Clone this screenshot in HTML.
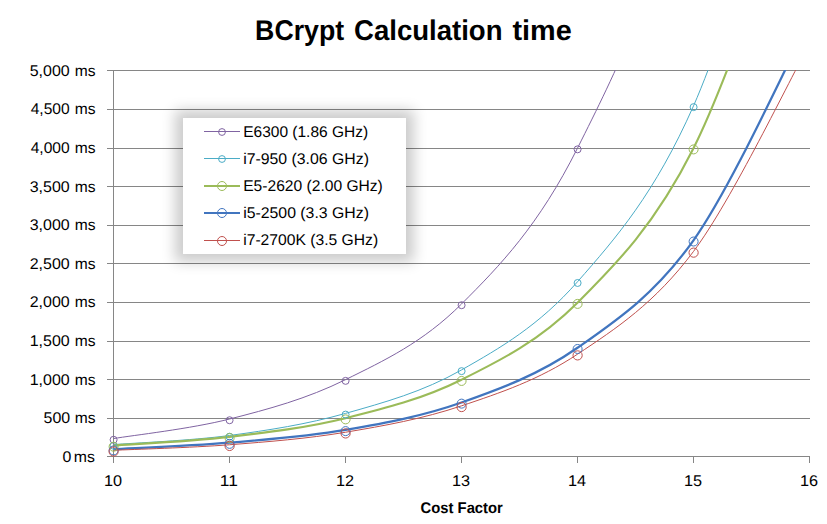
<!DOCTYPE html>
<html><head><meta charset="utf-8"><style>
html,body{margin:0;padding:0;background:#fff;}
body{width:827px;height:524px;overflow:hidden;}
svg{display:block;}
text{font-family:"Liberation Sans",sans-serif;fill:#000;text-rendering:geometricPrecision;}
</style></head><body>
<svg width="827" height="524" viewBox="0 0 827 524">
<defs>
<clipPath id="plot"><rect x="113" y="70" width="697" height="386"/></clipPath>
<filter id="sh" x="-50%" y="-50%" width="200%" height="200%"><feGaussianBlur stdDeviation="7"/></filter>
</defs>
<rect width="827" height="524" fill="#fff"/>

<path d="M107 70.5H810 M107 109.5H810 M107 148.5H810 M107 186.5H810 M107 225.5H810 M107 263.5H810 M107 302.5H810 M107 341.5H810 M107 379.5H810 M107 418.5H810" stroke="#868686" stroke-width="1" fill="none"/>
<path d="M113.5 70V463M107 456.5H810M229.5 456V463M345.5 456V463M461.5 456V463M577.5 456V463M693.5 456V463M809.5 456V463" stroke="#868686" stroke-width="1" fill="none"/>
<text x="255.12" y="40" font-size="28.5" font-weight="bold" textLength="89.09" lengthAdjust="spacingAndGlyphs">BCrypt</text>
<text x="354.03" y="40" font-size="28.5" font-weight="bold" textLength="148.52" lengthAdjust="spacingAndGlyphs">Calculation</text>
<text x="512.5" y="40" font-size="28.5" font-weight="bold" textLength="59.22" lengthAdjust="spacingAndGlyphs">time</text>
<text x="29.67" y="76" font-size="15.5" textLength="40.02" lengthAdjust="spacingAndGlyphs">5,000</text>
<text x="74.89" y="76" font-size="15.5" textLength="20.78" lengthAdjust="spacingAndGlyphs">ms</text>
<text x="30.7" y="114" font-size="15.5" textLength="39" lengthAdjust="spacingAndGlyphs">4,500</text>
<text x="74.89" y="114" font-size="15.5" textLength="20.78" lengthAdjust="spacingAndGlyphs">ms</text>
<text x="30.7" y="153" font-size="15.5" textLength="39" lengthAdjust="spacingAndGlyphs">4,000</text>
<text x="74.89" y="153" font-size="15.5" textLength="20.78" lengthAdjust="spacingAndGlyphs">ms</text>
<text x="29.67" y="192" font-size="15.5" textLength="40.02" lengthAdjust="spacingAndGlyphs">3,500</text>
<text x="74.89" y="192" font-size="15.5" textLength="20.78" lengthAdjust="spacingAndGlyphs">ms</text>
<text x="29.67" y="230" font-size="15.5" textLength="40.02" lengthAdjust="spacingAndGlyphs">3,000</text>
<text x="74.89" y="230" font-size="15.5" textLength="20.78" lengthAdjust="spacingAndGlyphs">ms</text>
<text x="29.67" y="269" font-size="15.5" textLength="40.02" lengthAdjust="spacingAndGlyphs">2,500</text>
<text x="74.89" y="269" font-size="15.5" textLength="20.78" lengthAdjust="spacingAndGlyphs">ms</text>
<text x="29.67" y="307" font-size="15.5" textLength="40.02" lengthAdjust="spacingAndGlyphs">2,000</text>
<text x="74.89" y="307" font-size="15.5" textLength="20.78" lengthAdjust="spacingAndGlyphs">ms</text>
<text x="29.67" y="346" font-size="15.5" textLength="40.02" lengthAdjust="spacingAndGlyphs">1,500</text>
<text x="74.89" y="346" font-size="15.5" textLength="20.78" lengthAdjust="spacingAndGlyphs">ms</text>
<text x="29.67" y="385" font-size="15.5" textLength="40.02" lengthAdjust="spacingAndGlyphs">1,000</text>
<text x="74.89" y="385" font-size="15.5" textLength="20.78" lengthAdjust="spacingAndGlyphs">ms</text>
<text x="43.57" y="423" font-size="15.5" textLength="26.6" lengthAdjust="spacingAndGlyphs">500</text>
<text x="74.89" y="423" font-size="15.5" textLength="20.78" lengthAdjust="spacingAndGlyphs">ms</text>
<text x="62.6" y="462" font-size="15.5" textLength="8.84" lengthAdjust="spacingAndGlyphs">0</text>
<text x="73.88" y="462" font-size="15.5" textLength="21.11" lengthAdjust="spacingAndGlyphs">ms</text>
<text x="103.95" y="486" font-size="15.5" textLength="18.11" lengthAdjust="spacingAndGlyphs">10</text>
<text x="219.88" y="486" font-size="15.5" textLength="18.03" lengthAdjust="spacingAndGlyphs">11</text>
<text x="335.95" y="486" font-size="15.5" textLength="18.11" lengthAdjust="spacingAndGlyphs">12</text>
<text x="451.95" y="486" font-size="15.5" textLength="18.11" lengthAdjust="spacingAndGlyphs">13</text>
<text x="567.95" y="486" font-size="15.5" textLength="18.11" lengthAdjust="spacingAndGlyphs">14</text>
<text x="683.95" y="486" font-size="15.5" textLength="18.11" lengthAdjust="spacingAndGlyphs">15</text>
<text x="799.95" y="486" font-size="15.5" textLength="18.11" lengthAdjust="spacingAndGlyphs">16</text>
<text x="420.6" y="513" font-size="15.5" font-weight="bold" textLength="82.22" lengthAdjust="spacingAndGlyphs">Cost Factor</text>
<g clip-path="url(#plot)" fill="none">
<path d="M113.5 438.57C132.83 435.32 190.83 428.86 229.5 419.04C268.17 409.22 306.83 398.84 345.5 379.67C384.17 360.5 422.83 342.6 461.5 304.01C500.17 265.42 538.83 225.33 577.5 148.14C616.17 70.96 654.83 -5.48 693.5 -159.11C732.17 -312.74 790.17 -671.21 809.5 -773.62" stroke="#8064A2" stroke-width="1"/>
<path d="M113.5 444.59C132.83 443.07 190.83 440.68 229.5 435.48C268.17 430.28 306.83 424.33 345.5 413.4C384.17 402.48 422.83 391.88 461.5 369.94C500.17 348 538.83 325.78 577.5 281.78C616.17 237.77 654.83 193.47 693.5 105.92C732.17 18.36 790.17 -185.32 809.5 -243.57" stroke="#4BACC6" stroke-width="1"/>
<path d="M113.5 445.52C132.83 444.08 190.83 441.43 229.5 436.87C268.17 432.32 306.83 427.71 345.5 418.19C384.17 408.67 422.83 398.99 461.5 379.74C500.17 360.5 538.83 341.29 577.5 302.7C616.17 264.11 654.83 225.16 693.5 148.22C732.17 71.28 790.17 -107.76 809.5 -158.96" stroke="#9BBB59" stroke-width="2.1"/>
<path d="M113.5 449.22C132.83 448.13 190.83 445.88 229.5 442.66C268.17 439.45 306.83 436.63 345.5 429.92C384.17 423.22 422.83 416.13 461.5 402.44C500.17 388.75 538.83 374.8 577.5 347.78C616.17 320.76 654.83 294.82 693.5 240.32C732.17 185.82 790.17 57.36 809.5 20.76" stroke="#4175BF" stroke-width="2.25"/>
<path d="M113.5 450.3C132.83 449.38 190.83 447.76 229.5 444.75C268.17 441.74 306.83 438.72 345.5 432.24C384.17 425.76 422.83 418.85 461.5 405.84C500.17 392.83 538.83 379.92 577.5 354.19C616.17 328.46 654.83 303.15 693.5 251.44C732.17 199.73 790.17 78.51 809.5 43.92" stroke="#C0504D" stroke-width="1"/>
</g>
<g fill="none" stroke-width="1">
<circle cx="113.6" cy="439.77" r="3.5" stroke="#8064A2"/>
<circle cx="229.6" cy="420.24" r="3.5" stroke="#8064A2"/>
<circle cx="345.6" cy="380.87" r="3.5" stroke="#8064A2"/>
<circle cx="461.6" cy="305.21" r="3.5" stroke="#8064A2"/>
<circle cx="577.6" cy="149.34" r="3.5" stroke="#8064A2"/>
<circle cx="113.6" cy="445.79" r="3.5" stroke="#4BACC6"/>
<circle cx="229.6" cy="436.68" r="3.5" stroke="#4BACC6"/>
<circle cx="345.6" cy="414.6" r="3.5" stroke="#4BACC6"/>
<circle cx="461.6" cy="371.14" r="3.5" stroke="#4BACC6"/>
<circle cx="577.6" cy="282.98" r="3.5" stroke="#4BACC6"/>
<circle cx="693.6" cy="107.12" r="3.5" stroke="#4BACC6"/>
<circle cx="113.6" cy="446.72" r="4.5" stroke="#9BBB59"/>
<circle cx="229.6" cy="438.07" r="4.5" stroke="#9BBB59"/>
<circle cx="345.6" cy="419.39" r="4.5" stroke="#9BBB59"/>
<circle cx="461.6" cy="380.94" r="4.5" stroke="#9BBB59"/>
<circle cx="577.6" cy="303.9" r="4.5" stroke="#9BBB59"/>
<circle cx="693.6" cy="149.42" r="4.5" stroke="#9BBB59"/>
<circle cx="113.6" cy="450.42" r="4.5" stroke="#4175BF"/>
<circle cx="229.6" cy="443.86" r="4.5" stroke="#4175BF"/>
<circle cx="345.6" cy="431.12" r="4.5" stroke="#4175BF"/>
<circle cx="461.6" cy="403.64" r="4.5" stroke="#4175BF"/>
<circle cx="577.6" cy="348.98" r="4.5" stroke="#4175BF"/>
<circle cx="693.6" cy="241.52" r="4.5" stroke="#4175BF"/>
<circle cx="113.6" cy="451.5" r="4.6" stroke="#C0504D"/>
<circle cx="229.6" cy="445.95" r="4.6" stroke="#C0504D"/>
<circle cx="345.6" cy="433.44" r="4.6" stroke="#C0504D"/>
<circle cx="461.6" cy="407.04" r="4.6" stroke="#C0504D"/>
<circle cx="577.6" cy="355.39" r="4.6" stroke="#C0504D"/>
<circle cx="693.6" cy="252.64" r="4.6" stroke="#C0504D"/>
</g>
<rect x="175" y="110" width="239" height="152" fill="#000" opacity="0.2" filter="url(#sh)"/>
<rect x="183" y="118" width="223" height="136" fill="#fff"/>
<path d="M204 131.5H240" stroke="#8064A2" stroke-width="1"/>
<circle cx="222" cy="132" r="3.4" fill="none" stroke="#8064A2"/>
<text x="243.2" y="137" font-size="15.5" textLength="124.94" lengthAdjust="spacingAndGlyphs">E6300 (1.86 GHz)</text>
<path d="M204 158.5H240" stroke="#4BACC6" stroke-width="1"/>
<circle cx="222" cy="159" r="3.4" fill="none" stroke="#4BACC6"/>
<text x="243.18" y="164" font-size="15.5" textLength="125.75" lengthAdjust="spacingAndGlyphs">i7-950 (3.06 GHz)</text>
<path d="M204 186H240" stroke="#9BBB59" stroke-width="2"/>
<circle cx="222" cy="186" r="4.5" fill="none" stroke="#9BBB59"/>
<text x="243.19" y="191" font-size="15.5" textLength="139.63" lengthAdjust="spacingAndGlyphs">E5-2620 (2.00 GHz)</text>
<path d="M204 213H240" stroke="#4175BF" stroke-width="2"/>
<circle cx="222" cy="213" r="4.5" fill="none" stroke="#4175BF"/>
<text x="243.18" y="218" font-size="15.5" textLength="125.75" lengthAdjust="spacingAndGlyphs">i5-2500 (3.3 GHz)</text>
<path d="M204 240.5H240" stroke="#C0504D" stroke-width="1"/>
<circle cx="222" cy="241" r="4.5" fill="none" stroke="#C0504D"/>
<text x="243.19" y="245" font-size="15.5" textLength="134.95" lengthAdjust="spacingAndGlyphs">i7-2700K (3.5 GHz)</text>
</svg></body></html>
